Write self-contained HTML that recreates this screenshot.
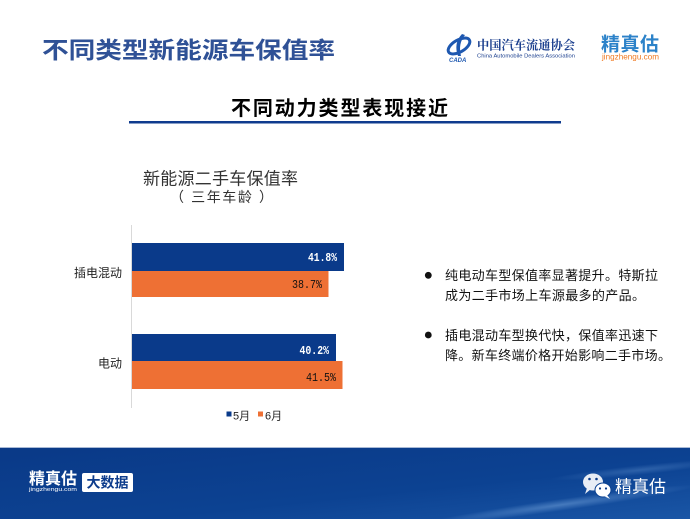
<!DOCTYPE html>
<html><head><meta charset="utf-8">
<style>
html,body{margin:0;padding:0;background:#fff;}
svg{display:block;}
text{font-family:"Liberation Sans","Noto Sans CJK SC",sans-serif;}
</style></head>
<body>
<svg width="690" height="519" viewBox="0 0 690 519" xmlns="http://www.w3.org/2000/svg">
<defs>
<linearGradient id="ft" x1="0" y1="0" x2="1" y2="1">
<stop offset="0" stop-color="#0a3987"/>
<stop offset="0.6" stop-color="#0c4292"/>
<stop offset="1" stop-color="#1a56a6"/>
</linearGradient>
<radialGradient id="streak" cx="0.5" cy="0.5" r="0.5">
<stop offset="0" stop-color="#6f9fd8" stop-opacity="0.55"/>
<stop offset="1" stop-color="#6f9fd8" stop-opacity="0"/>
</radialGradient>
</defs>
<rect width="690" height="519" fill="#fff"/>

<!-- Title -->
<text x="42" y="58" font-size="23" font-weight="bold" fill="#2f5196" textLength="293" lengthAdjust="spacingAndGlyphs">不同类型新能源车保值率</text>

<!-- CADA logo -->
<g>
<ellipse cx="459" cy="46" rx="12" ry="6" fill="none" stroke="#1e58b0" stroke-width="3" transform="rotate(-30 459 46)"/>
<path d="M462 34 C456 40 455 48 458 56 L461 56 C459 48 460 41 465 35 Z" fill="#1e58b0"/>
<text x="449" y="62" font-size="6" font-style="italic" font-weight="bold" fill="#1e58b0">CADA</text>
<text x="477" y="49.5" font-size="12.5" font-weight="bold" fill="#1b3f8e" textLength="98" lengthAdjust="spacingAndGlyphs" style="font-family:'Liberation Serif','Noto Serif CJK SC',serif">中国汽车流通协会</text>
<text x="477" y="57.5" font-size="5.5" fill="#1b3f8e" textLength="98" lengthAdjust="spacingAndGlyphs">China Automobile Dealers Association</text>
</g>

<!-- jingzhengu logo -->
<text x="601" y="50.5" font-size="19" font-weight="bold" fill="#2c82c9" textLength="58" lengthAdjust="spacing">精真估</text>
<text x="602" y="59.5" font-size="8.5" fill="#f07a22" textLength="57" lengthAdjust="spacingAndGlyphs">jingzhengu.com</text>

<!-- Subtitle -->
<text x="231" y="115" font-size="20" font-weight="bold" fill="#000" textLength="217" lengthAdjust="spacing">不同动力类型表现接近</text>
<rect x="129" y="121" width="432" height="2.5" fill="#0f3b8e"/>

<!-- Chart title -->
<text x="143" y="184.5" font-size="17" fill="#333" textLength="155" lengthAdjust="spacing">新能源二手车保值率</text>
<text x="170" y="202" font-size="14" fill="#333" textLength="103" lengthAdjust="spacing">（ 三年车龄 ）</text>

<!-- axis -->
<rect x="131" y="225" width="1" height="183" fill="#d9d9d9"/>

<!-- bars -->
<rect x="132" y="243" width="212" height="28" fill="#0a3a8a"/>
<rect x="132" y="271" width="196.5" height="26" fill="#ee7034"/>
<rect x="132" y="334" width="204" height="27" fill="#0a3a8a"/>
<rect x="132" y="361" width="210.5" height="28" fill="#ee7034"/>

<!-- value labels -->
<g font-size="11.5">
<text x="308" y="261" fill="#fff" font-weight="bold" textLength="29" lengthAdjust="spacingAndGlyphs" style="font-family:'Liberation Mono',monospace">41.8%</text>
<text x="292" y="288" fill="#111" textLength="30" lengthAdjust="spacingAndGlyphs" style="font-family:'Liberation Mono',monospace">38.7%</text>
<text x="299.5" y="354" fill="#fff" font-weight="bold" textLength="29.5" lengthAdjust="spacingAndGlyphs" style="font-family:'Liberation Mono',monospace">40.2%</text>
<text x="306" y="381" fill="#111" textLength="30" lengthAdjust="spacingAndGlyphs" style="font-family:'Liberation Mono',monospace">41.5%</text>
</g>

<!-- category labels -->
<text x="122" y="277.2" text-anchor="end" font-size="12" fill="#222">插电混动</text>
<text x="122" y="367.6" text-anchor="end" font-size="12" fill="#222">电动</text>

<!-- legend -->
<rect x="226.5" y="411.5" width="5" height="5" fill="#0a3a8a"/>
<text x="233" y="419.7" font-size="11" fill="#222">5月</text>
<rect x="258" y="411.5" width="5" height="5" fill="#ee7034"/>
<text x="265" y="419.7" font-size="11" fill="#222">6月</text>

<!-- bullets -->
<circle cx="428.3" cy="275.3" r="3.4" fill="#111"/>
<circle cx="428.3" cy="335" r="3.4" fill="#111"/>
<g font-size="13" fill="#111">
<text x="445" y="280.2" textLength="213" lengthAdjust="spacing">纯电动车型保值率显著提升。特斯拉</text>
<text x="445" y="300.2" textLength="200" lengthAdjust="spacing">成为二手市场上车源最多的产品。</text>
<text x="445" y="339.9" textLength="213" lengthAdjust="spacing">插电混动车型换代快，保值率迅速下</text>
<text x="445" y="359.9" textLength="226" lengthAdjust="spacing">降。新车终端价格开始影响二手市场。</text>
</g>

<!-- footer -->
<rect x="0" y="447" width="690" height="72" fill="url(#ft)"/>
<rect x="0" y="447" width="690" height="1" fill="#a9bad6"/>
<ellipse cx="560" cy="505" rx="140" ry="6" fill="url(#streak)" transform="rotate(-8 560 505)"/>
<ellipse cx="640" cy="470" rx="90" ry="5" fill="url(#streak)" transform="rotate(-6 640 470)" opacity="0.6"/>

<text x="29" y="484" font-size="16" fill="#fff" font-weight="bold" textLength="48" lengthAdjust="spacing">精真估</text>
<text x="29" y="491" font-size="5.5" fill="#fff" textLength="48" lengthAdjust="spacingAndGlyphs">jingzhengu.com</text>
<rect x="82" y="473" width="51" height="19" rx="2" fill="#fff"/>
<text x="107.5" y="487.5" text-anchor="middle" font-size="14" font-weight="bold" fill="#0d3c8c">大数据</text>

<!-- wechat icon -->
<ellipse cx="593" cy="482" rx="10" ry="8.5" fill="#e8edf5"/>
<path d="M587 488 L585 494 L591 489 Z" fill="#e8edf5"/>
<ellipse cx="603" cy="490" rx="8" ry="7" fill="#ffffff" stroke="#0c4292" stroke-width="1"/>
<path d="M607 495 L610 499 L604 496 Z" fill="#ffffff"/>
<circle cx="589.5" cy="479" r="1.3" fill="#0c3a88"/>
<circle cx="596.5" cy="479" r="1.3" fill="#0c3a88"/>
<circle cx="600" cy="488.5" r="1.1" fill="#0c3a88"/>
<circle cx="606" cy="488.5" r="1.1" fill="#0c3a88"/>
<text x="615" y="492.5" font-size="17" fill="#fff" textLength="51" lengthAdjust="spacing">精真估</text>
</svg>
</body></html>
